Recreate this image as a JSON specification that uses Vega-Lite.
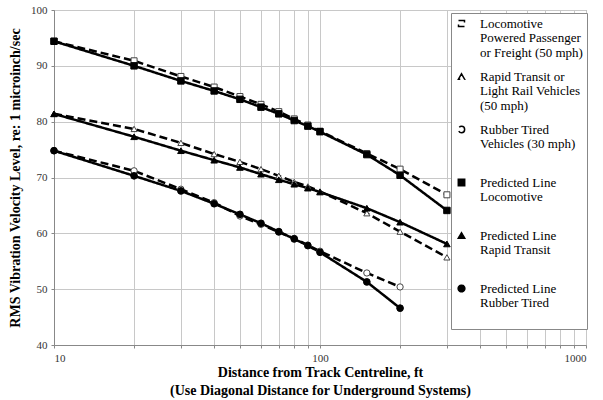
{
  "$schema": "https://vega.github.io/schema/vega-lite/v6.json",
  "width": 532,
  "height": 335,
  "autosize": {"type": "none"},
  "padding": {"left": 54, "top": 10, "right": 17, "bottom": 55},
  "config": {
    "font": "Liberation Serif",
    "view": {"stroke": "#888", "strokeWidth": 1},
    "axis": {
      "labelFont": "Liberation Serif",
      "labelFontSize": 11,
      "labelColor": "#333",
      "titleFont": "Liberation Serif",
      "titleFontSize": 14,
      "titleFontWeight": "bold",
      "titleColor": "#000",
      "gridColor": "#c8c8c8",
      "gridWidth": 1,
      "domainColor": "#888",
      "tickColor": "#888",
      "tickSize": 3
    }
  },
  "data": {
    "values": [
      {"d": 10, "v": 94.4, "series": "Locomotive|Powered Passenger|or Freight (50 mph)"},
      {"d": 20, "v": 90.9, "series": "Locomotive|Powered Passenger|or Freight (50 mph)"},
      {"d": 30, "v": 88.1, "series": "Locomotive|Powered Passenger|or Freight (50 mph)"},
      {"d": 40, "v": 86.2, "series": "Locomotive|Powered Passenger|or Freight (50 mph)"},
      {"d": 50, "v": 84.5, "series": "Locomotive|Powered Passenger|or Freight (50 mph)"},
      {"d": 60, "v": 83.1, "series": "Locomotive|Powered Passenger|or Freight (50 mph)"},
      {"d": 70, "v": 81.8, "series": "Locomotive|Powered Passenger|or Freight (50 mph)"},
      {"d": 80, "v": 80.5, "series": "Locomotive|Powered Passenger|or Freight (50 mph)"},
      {"d": 90, "v": 79.4, "series": "Locomotive|Powered Passenger|or Freight (50 mph)"},
      {"d": 100, "v": 78.3, "series": "Locomotive|Powered Passenger|or Freight (50 mph)"},
      {"d": 150, "v": 74.3, "series": "Locomotive|Powered Passenger|or Freight (50 mph)"},
      {"d": 200, "v": 71.5, "series": "Locomotive|Powered Passenger|or Freight (50 mph)"},
      {"d": 300, "v": 66.9, "series": "Locomotive|Powered Passenger|or Freight (50 mph)"},
      {"d": 10, "v": 81.4, "series": "Rapid Transit or|Light Rail Vehicles|(50 mph)"},
      {"d": 20, "v": 78.7, "series": "Rapid Transit or|Light Rail Vehicles|(50 mph)"},
      {"d": 30, "v": 76.2, "series": "Rapid Transit or|Light Rail Vehicles|(50 mph)"},
      {"d": 40, "v": 74.2, "series": "Rapid Transit or|Light Rail Vehicles|(50 mph)"},
      {"d": 50, "v": 72.8, "series": "Rapid Transit or|Light Rail Vehicles|(50 mph)"},
      {"d": 60, "v": 71.5, "series": "Rapid Transit or|Light Rail Vehicles|(50 mph)"},
      {"d": 70, "v": 70.3, "series": "Rapid Transit or|Light Rail Vehicles|(50 mph)"},
      {"d": 80, "v": 69.2, "series": "Rapid Transit or|Light Rail Vehicles|(50 mph)"},
      {"d": 90, "v": 68.4, "series": "Rapid Transit or|Light Rail Vehicles|(50 mph)"},
      {"d": 100, "v": 67.5, "series": "Rapid Transit or|Light Rail Vehicles|(50 mph)"},
      {"d": 150, "v": 63.6, "series": "Rapid Transit or|Light Rail Vehicles|(50 mph)"},
      {"d": 200, "v": 60.3, "series": "Rapid Transit or|Light Rail Vehicles|(50 mph)"},
      {"d": 300, "v": 55.7, "series": "Rapid Transit or|Light Rail Vehicles|(50 mph)"},
      {"d": 10, "v": 74.8, "series": "Rubber Tired|Vehicles (30 mph)|"},
      {"d": 20, "v": 71.2, "series": "Rubber Tired|Vehicles (30 mph)|"},
      {"d": 30, "v": 67.9, "series": "Rubber Tired|Vehicles (30 mph)|"},
      {"d": 40, "v": 65.5, "series": "Rubber Tired|Vehicles (30 mph)|"},
      {"d": 50, "v": 63.1, "series": "Rubber Tired|Vehicles (30 mph)|"},
      {"d": 60, "v": 61.6, "series": "Rubber Tired|Vehicles (30 mph)|"},
      {"d": 70, "v": 60.2, "series": "Rubber Tired|Vehicles (30 mph)|"},
      {"d": 80, "v": 59.1, "series": "Rubber Tired|Vehicles (30 mph)|"},
      {"d": 90, "v": 57.9, "series": "Rubber Tired|Vehicles (30 mph)|"},
      {"d": 100, "v": 56.8, "series": "Rubber Tired|Vehicles (30 mph)|"},
      {"d": 150, "v": 52.9, "series": "Rubber Tired|Vehicles (30 mph)|"},
      {"d": 200, "v": 50.4, "series": "Rubber Tired|Vehicles (30 mph)|"},
      {"d": 10, "v": 94.4, "series": "Predicted Line|Locomotive|"},
      {"d": 20, "v": 90.0, "series": "Predicted Line|Locomotive|"},
      {"d": 30, "v": 87.3, "series": "Predicted Line|Locomotive|"},
      {"d": 40, "v": 85.5, "series": "Predicted Line|Locomotive|"},
      {"d": 50, "v": 84.0, "series": "Predicted Line|Locomotive|"},
      {"d": 60, "v": 82.6, "series": "Predicted Line|Locomotive|"},
      {"d": 70, "v": 81.4, "series": "Predicted Line|Locomotive|"},
      {"d": 80, "v": 80.2, "series": "Predicted Line|Locomotive|"},
      {"d": 90, "v": 79.2, "series": "Predicted Line|Locomotive|"},
      {"d": 100, "v": 78.2, "series": "Predicted Line|Locomotive|"},
      {"d": 150, "v": 74.1, "series": "Predicted Line|Locomotive|"},
      {"d": 200, "v": 70.4, "series": "Predicted Line|Locomotive|"},
      {"d": 300, "v": 64.1, "series": "Predicted Line|Locomotive|"},
      {"d": 10, "v": 81.4, "series": "Predicted Line|Rapid Transit|"},
      {"d": 20, "v": 77.3, "series": "Predicted Line|Rapid Transit|"},
      {"d": 30, "v": 74.8, "series": "Predicted Line|Rapid Transit|"},
      {"d": 40, "v": 73.1, "series": "Predicted Line|Rapid Transit|"},
      {"d": 50, "v": 71.8, "series": "Predicted Line|Rapid Transit|"},
      {"d": 60, "v": 70.6, "series": "Predicted Line|Rapid Transit|"},
      {"d": 70, "v": 69.6, "series": "Predicted Line|Rapid Transit|"},
      {"d": 80, "v": 68.8, "series": "Predicted Line|Rapid Transit|"},
      {"d": 90, "v": 68.1, "series": "Predicted Line|Rapid Transit|"},
      {"d": 100, "v": 67.4, "series": "Predicted Line|Rapid Transit|"},
      {"d": 150, "v": 64.5, "series": "Predicted Line|Rapid Transit|"},
      {"d": 200, "v": 62.0, "series": "Predicted Line|Rapid Transit|"},
      {"d": 300, "v": 58.1, "series": "Predicted Line|Rapid Transit|"},
      {"d": 10, "v": 74.8, "series": "Predicted Line|Rubber Tired|"},
      {"d": 20, "v": 70.3, "series": "Predicted Line|Rubber Tired|"},
      {"d": 30, "v": 67.6, "series": "Predicted Line|Rubber Tired|"},
      {"d": 40, "v": 65.3, "series": "Predicted Line|Rubber Tired|"},
      {"d": 50, "v": 63.4, "series": "Predicted Line|Rubber Tired|"},
      {"d": 60, "v": 61.8, "series": "Predicted Line|Rubber Tired|"},
      {"d": 70, "v": 60.3, "series": "Predicted Line|Rubber Tired|"},
      {"d": 80, "v": 59.0, "series": "Predicted Line|Rubber Tired|"},
      {"d": 90, "v": 57.8, "series": "Predicted Line|Rubber Tired|"},
      {"d": 100, "v": 56.6, "series": "Predicted Line|Rubber Tired|"},
      {"d": 150, "v": 51.3, "series": "Predicted Line|Rubber Tired|"},
      {"d": 200, "v": 46.6, "series": "Predicted Line|Rubber Tired|"}
    ]
  },
  "encoding": {
    "x": {
      "field": "d",
      "type": "quantitative",
      "scale": {"type": "log", "domain": [10, 1000], "nice": false},
      "axis": {
        "values": [10, 20, 30, 40, 50, 60, 70, 80, 90, 100, 200, 300, 400, 500, 600, 700, 800, 900, 1000],
        "labelExpr": "(datum.value == 10 || datum.value == 100 || datum.value == 1000) ? format(datum.value, 'd') : ''",
        "labelPadding": 4,
        "title": ["Distance from Track Centreline, ft", "(Use Diagonal Distance for Underground Systems)"],
        "titlePadding": 2,
        "titleLineHeight": 18
      }
    },
    "y": {
      "field": "v",
      "type": "quantitative",
      "scale": {"domain": [40, 100], "nice": false, "zero": false},
      "axis": {
        "values": [40, 50, 60, 70, 80, 90, 100],
        "labelPadding": 4,
        "title": "RMS Vibration Velocity Level, re: 1 microinch/sec",
        "titlePadding": 8
      }
    }
  },
  "layer": [
    {
      "mark": {"type": "line", "strokeWidth": 2.5},
      "encoding": {
        "color": {
          "field": "series",
          "type": "nominal",
          "scale": {
            "domain": [
              "Locomotive|Powered Passenger|or Freight (50 mph)",
              "Rapid Transit or|Light Rail Vehicles|(50 mph)",
              "Rubber Tired|Vehicles (30 mph)|",
              "Predicted Line|Locomotive|",
              "Predicted Line|Rapid Transit|",
              "Predicted Line|Rubber Tired|"
            ],
            "range": ["#000", "#000", "#000", "#000", "#000", "#000"]
          },
          "legend": {
            "title": null,
            "orient": "none",
            "legendX": 397,
            "legendY": 3,
            "fillColor": "#fff",
            "strokeColor": "#888",
            "padding": 4,
            "rowPadding": 10,
            "symbolType": "square",
            "symbolSize": 625,
            "labelOffset": 1,
            "labelFont": "Liberation Serif",
            "labelFontSize": 13,
            "labelColor": "#000",
            "labelLimit": 200,
            "labelExpr": "split(datum.label, '|')",
            "encode": {
              "labels": {
                "update": {
                  "x": {"value": 25},
                  "lineHeight": {"value": 14.5}
                }
              }
            }
          }
        },
        "strokeDash": {
          "field": "series",
          "type": "nominal",
          "scale": {
            "domain": [
              "Locomotive|Powered Passenger|or Freight (50 mph)",
              "Rapid Transit or|Light Rail Vehicles|(50 mph)",
              "Rubber Tired|Vehicles (30 mph)|",
              "Predicted Line|Locomotive|",
              "Predicted Line|Rapid Transit|",
              "Predicted Line|Rubber Tired|"
            ],
            "range": [[8, 4], [8, 4], [8, 4], [1, 0], [1, 0], [1, 0]]
          },
          "legend": null
        }
      }
    },
    {
      "mark": {"type": "point", "filled": false, "strokeWidth": 1, "opacity": 1},
      "encoding": {
        "shape": {
          "field": "series",
          "type": "nominal",
          "scale": {
            "domain": [
              "Locomotive|Powered Passenger|or Freight (50 mph)",
              "Rapid Transit or|Light Rail Vehicles|(50 mph)",
              "Rubber Tired|Vehicles (30 mph)|",
              "Predicted Line|Locomotive|",
              "Predicted Line|Rapid Transit|",
              "Predicted Line|Rubber Tired|"
            ],
            "range": ["square", "triangle-up", "circle", "square", "triangle-up", "circle"]
          },
          "legend": null
        },
        "fill": {
          "field": "series",
          "type": "nominal",
          "scale": {
            "domain": [
              "Locomotive|Powered Passenger|or Freight (50 mph)",
              "Rapid Transit or|Light Rail Vehicles|(50 mph)",
              "Rubber Tired|Vehicles (30 mph)|",
              "Predicted Line|Locomotive|",
              "Predicted Line|Rapid Transit|",
              "Predicted Line|Rubber Tired|"
            ],
            "range": ["#fff", "#fff", "#fff", "#000", "#000", "#000"]
          },
          "legend": null
        },
        "stroke": {
          "field": "series",
          "type": "nominal",
          "scale": {
            "domain": [
              "Locomotive|Powered Passenger|or Freight (50 mph)",
              "Rapid Transit or|Light Rail Vehicles|(50 mph)",
              "Rubber Tired|Vehicles (30 mph)|",
              "Predicted Line|Locomotive|",
              "Predicted Line|Rapid Transit|",
              "Predicted Line|Rubber Tired|"
            ],
            "range": ["#444", "#444", "#444", "#000", "#000", "#000"]
          },
          "legend": null
        },
        "size": {
          "field": "series",
          "type": "nominal",
          "scale": {
            "domain": [
              "Locomotive|Powered Passenger|or Freight (50 mph)",
              "Rapid Transit or|Light Rail Vehicles|(50 mph)",
              "Rubber Tired|Vehicles (30 mph)|",
              "Predicted Line|Locomotive|",
              "Predicted Line|Rapid Transit|",
              "Predicted Line|Rubber Tired|"
            ],
            "range": [36, 45, 40, 70, 70, 55]
          },
          "legend": null
        }
      }
    }
  ]
}
